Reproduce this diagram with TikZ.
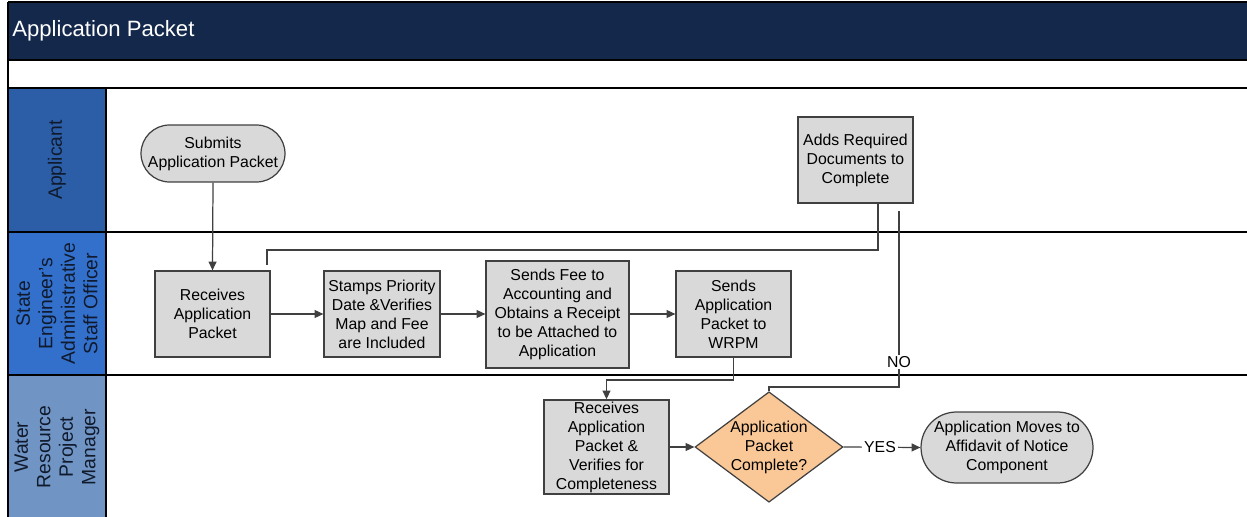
\documentclass[tikz,border=0pt]{standalone}
\usepackage{fontspec}
\setmainfont{Liberation Sans}
\usetikzlibrary{shapes.geometric,arrows.meta}

\definecolor{titlebar}{HTML}{14284B}
\definecolor{laneA}{HTML}{2B5EA7}
\definecolor{laneB}{HTML}{3370CC}
\definecolor{laneC}{HTML}{7094C4}
\definecolor{boxfill}{HTML}{D9D9D9}
\definecolor{decfill}{HTML}{FAC896}
\definecolor{edge}{HTML}{404040}
\definecolor{lanetext}{HTML}{101A2C}

\tikzset{
  boxtext/.style={font=\fontsize{9}{10.8}\selectfont, align=center, text=black},
  process/.style={boxtext, rectangle, draw=edge, fill=boxfill, line width=0.7pt, inner sep=1pt},
  terminal/.style={boxtext, rectangle, draw=edge, fill=boxfill, line width=0.7pt, inner sep=1pt},
  decision/.style={boxtext, diamond, aspect=1.34, draw=edge, fill=decfill, line width=0.7pt, inner sep=0pt,
                   minimum width=2.84cm, minimum height=2.12cm},
  lanelabel/.style={font=\fontsize{11}{12.8}\selectfont, align=center, text=lanetext, rotate=90},
  flow/.style={draw=edge, line width=0.7pt},
  arr/.style={flow, -{Triangle[length=5pt,width=4.5pt]}},
  tag/.style={boxtext, fill=white, inner sep=1pt},
  laneline/.style={draw=black, line width=0.9pt}
}

\begin{document}
\begin{tikzpicture}[x=0.02cm, y=-0.02cm]
  \useasboundingbox (0,0) rectangle (1247,517);

  % title bar and blank band
  \fill[titlebar] (8,2) rectangle (1247,60);
  \node[anchor=west, text=white, font=\fontsize{12.6}{14}\selectfont, inner sep=0pt] (title) at (12,31) {Application Packet};

  % lane headers
  \fill[laneA] (8,88) rectangle (106,232);
  \fill[laneB] (8,232) rectangle (106,375);
  \fill[laneC] (8,375) rectangle (106,517);

  % lane frame
  \draw[laneline] (8,2) -- (8,517);
  \draw[laneline] (8,2) -- (1247,2);
  \draw[laneline] (8,60) -- (1247,60);
  \draw[laneline] (8,88) -- (1247,88);
  \draw[laneline] (8,232) -- (1247,232);
  \draw[laneline] (8,375) -- (1247,375);
  \draw[laneline] (106,88) -- (106,517);

  \node[lanelabel] (laneApp) at (57,160) {Applicant};
  \node[lanelabel] (laneSE) at (57,303.5) {State\\Engineer’s\\Administrative\\Staff Officer};
  \node[lanelabel] (laneWR) at (57,447) {Water\\Resource\\Project\\Manager};

  % steps
  \node[terminal, rounded corners=0.57cm, minimum width=2.88cm, minimum height=1.14cm] (sub) at (213,153.5) {Submits\\Application Packet};
  \node[process, minimum width=2.3cm, minimum height=1.72cm] (rec1) at (212.5,314) {Receives\\Application\\Packet};
  \node[process, minimum width=2.32cm, minimum height=1.72cm] (stamp) at (382,314) {Stamps Priority\\Date \&Verifies\\Map and Fee\\are Included};
  \node[process, minimum width=2.86cm, minimum height=2.14cm] (fee) at (557.5,314.5) {Sends Fee to\\Accounting and\\Obtains a Receipt\\to be Attached to\\Application};
  \node[process, minimum width=2.3cm, minimum height=1.72cm] (wrpm) at (733.5,314) {Sends\\Application\\Packet to\\WRPM};
  \node[process, minimum width=2.3cm, minimum height=1.72cm] (adds) at (855.5,160) {Adds Required\\Documents to\\Complete};
  \node[process, minimum width=2.5cm, minimum height=1.88cm] (rec2) at (606.5,447) {Receives\\Application\\Packet \&\\Verifies for\\Completeness};
  \node[decision] (dec) at (769,447) {Application\\Packet\\Complete?};
  \node[terminal, rounded corners=0.71cm, minimum width=3.44cm, minimum height=1.42cm] (mov) at (1007,447.5) {Application Moves to\\Affidavit of Notice\\Component};

  % routing points
  \coordinate (retA) at (878,250);
  \coordinate (retB) at (267,250);
  \coordinate (retEnd) at (267,265);
  \coordinate (hand) at (0,380);
  \coordinate (noBend) at (0,387);
  \coordinate (noTop) at (899,211);

  % connectors
  \draw[arr] (sub.south) -- (rec1.north);
  \draw[flow] (adds.south -| retA) -- (retA) -- (retB) -- (retEnd);
  \draw[arr] (rec1.east) -- (stamp.west);
  \draw[arr] (stamp.east) -- (stamp.east -| fee.west);
  \draw[arr] (fee.east |- wrpm.west) -- (wrpm.west);
  \draw[arr] (wrpm.south) -- (wrpm.south |- hand) -| (rec2.north);
  \draw[arr] (rec2.east) -- (dec.west);
  \draw[flow] (dec.north) -- (dec.north |- noBend) -| (noTop);
  \node[tag] (no) at (899,362) {NO};
  \draw[arr] (dec.east) -- (mov.west);
  \node[tag] (yes) at (880,447) {YES};
\end{tikzpicture}
\end{document}
